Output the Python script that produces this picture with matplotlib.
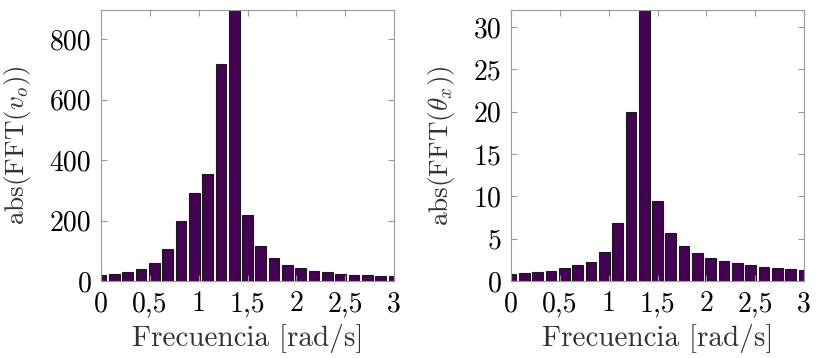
import numpy as np
import matplotlib
matplotlib.use("Agg")
import matplotlib.pyplot as plt

plt.rcParams["font.family"] = "cmr10"
plt.rcParams["mathtext.fontset"] = "cm"
plt.rcParams["axes.unicode_minus"] = False

# Frequency bins (rad/s) and FFT magnitudes
freq = np.linspace(0, 3, 23)
fft_vo = [20, 22, 29, 41, 61, 105, 199, 290, 355, 717, 897, 220, 115, 75,
          54, 43, 34, 29, 24, 21, 19, 17, 15]
fft_theta = [0.83, 0.90, 1.02, 1.22, 1.54, 1.85, 2.20, 3.46, 6.90, 19.9, 32.0,
             9.5, 5.7, 4.13, 3.27, 2.76, 2.36, 2.09, 1.85, 1.69, 1.57, 1.46, 1.34]

xticks = [0, 0.5, 1, 1.5, 2, 2.5, 3]
xticklabels = ["0", "0,5", "1", "1,5", "2", "2,5", "3"]
yticks_vo = [0, 200, 400, 600, 800]
yticks_theta = [0, 5, 10, 15, 20, 25, 30]

ylabels = [r"abs(FFT($v_o$))", r"abs(FFT($\theta_x$))"]

fig = plt.figure(figsize=(8.19, 3.58), dpi=100)
W, H = 819, 358
boxes = [(101, 10, 394, 281), (511, 10, 804, 281)]
series = [fft_vo, fft_theta]
yticks_all = [yticks_vo, yticks_theta]

step = freq[1] - freq[0]
for (x0, y0, x1, y1), vals, yt, yl in zip(boxes, series, yticks_all, ylabels):
    ax = fig.add_axes([x0 / W, 1 - y1 / H, (x1 - x0) / W, (y1 - y0) / H])
    ax.bar(freq, vals, width=step * 0.8, color="#440154",
           edgecolor="#1a1a1a", linewidth=0.8)
    ax.set_xlim(0, 3)
    ax.set_ylim(0, max(vals))
    ax.set_xticks(xticks)
    ax.set_xticklabels(xticklabels)
    ax.set_yticks(yt)
    ax.set_yticklabels([str(v) for v in yt])
    ax.tick_params(direction="in", top=True, right=True, length=4,
                   color="#999999", labelsize=20, pad=7)
    for s in ax.spines.values():
        s.set_color("#999999")
        s.set_linewidth(0.8)
    ax.set_xlabel("Frecuencia [rad/s]", fontsize=21, color="#333333",
                  labelpad=5)
    ax.set_ylabel(yl, fontsize=19.5, color="#333333", labelpad=12)

fig.savefig("out.png", dpi=100)
